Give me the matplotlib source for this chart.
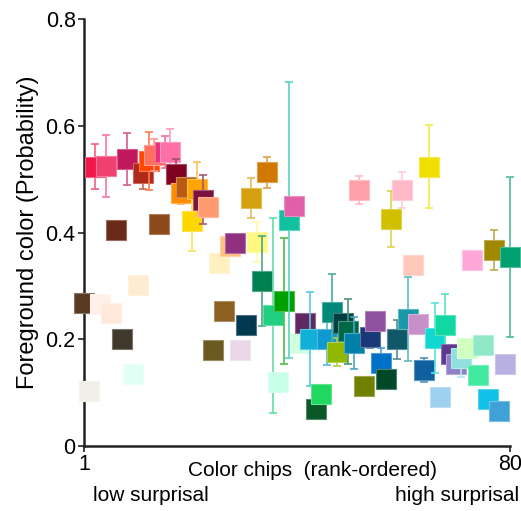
import numpy as np
import matplotlib.pyplot as plt
import matplotlib.colors as mcolors

plt.rcParams['font.family'] = ['Liberation Sans', 'DejaVu Sans']

# chips ranked by surprisal, 1..80
rank = list(range(1, 81))

prob = [0.268, 0.103, 0.523, 0.266, 0.525, 0.249, 0.405, 0.200, 0.538, 0.135,
        0.302, 0.511, 0.534, 0.545, 0.416, 0.551, 0.551, 0.510, 0.474, 0.485,
        0.422, 0.481, 0.461, 0.448, 0.180, 0.343, 0.253, 0.375, 0.380, 0.180,
        0.227, 0.465, 0.382, 0.309, 0.513, 0.245, 0.120, 0.272, 0.423, 0.450,
        0.193, 0.230, 0.200, 0.069, 0.097, 0.200, 0.251, 0.176, 0.230, 0.215,
        0.193, 0.480, 0.112, 0.204, 0.234, 0.156, 0.126, 0.425, 0.200, 0.480,
        0.238, 0.339, 0.229, 0.142, 0.523, 0.202, 0.092, 0.227, 0.172, 0.154,
        0.165, 0.184, 0.348, 0.133, 0.189, 0.088, 0.367, 0.066, 0.154, 0.354]

err = [0.0, 0.0, 0.042, 0.0, 0.058, 0.0, 0.0, 0.0, 0.049, 0.0,
       0.0, 0.030, 0.054, 0.030, 0.0, 0.030, 0.042, 0.027, 0.020, 0.0,
       0.056, 0.051, 0.046, 0.0, 0.0, 0.0, 0.0, 0.0, 0.0, 0.0,
       0.005, 0.037, 0.038, 0.085, 0.029, 0.183, 0.0, 0.118, 0.259, 0.0,
       0.0, 0.0, 0.088, 0.0, 0.0, 0.049, 0.071, 0.026, 0.0, 0.061,
       0.049, 0.026, 0.0, 0.020, 0.0, 0.028, 0.0, 0.052, 0.037, 0.034,
       0.078, 0.0, 0.0, 0.023, 0.078, 0.066, 0.0, 0.058, 0.0, 0.0,
       0.036, 0.0, 0.0, 0.0, 0.010, 0.0, 0.037, 0.0, 0.0, 0.150]

colors = ['#5A3A20', '#F0F0E8', '#F0184A', '#FFF0E8', '#F04070', '#FFE8D8', '#6A2A18', '#40382A', '#C0185A', '#E0FFF5',
          '#FFEBD0', '#B02818', '#FF4500', '#FF7060', '#8B4A1A', '#E8307A', '#FF70A8', '#800020', '#FF8C00', '#B85A10',
          '#FFD700', '#FFA500', '#7A1040', '#FF9A70', '#6A5A20', '#FFF0C0', '#8B6020', '#FFC080', '#903080', '#E8D8E8',
          '#003850', '#D4A010', '#FFF880', '#008050', '#D07800', '#20D080', '#C8FFE8', '#00A000', '#10C0A0', '#E060A8',
          '#D0FFE0', '#602860', '#10B0D8', '#0A5828', '#20D860', '#1098D0', '#008878', '#90B800', '#004040', '#006848',
          '#0080A8', '#FFA0A8', '#708000', '#183878', '#9050A0', '#0070C8', '#004828', '#D0C000', '#105868', '#FFB8C8',
          '#1898A8', '#FFC8B8', '#C890C8', '#1060A0', '#F0E000', '#10D8D0', '#A0D0F0', '#10D8A0', '#603890', '#9080C8',
          '#90E0E0', '#D0FFC0', '#FFA8D8', '#40E8A0', '#90E8C8', '#10C0E8', '#A08800', '#40A0D8', '#B8B0E0', '#00A070']

fig = plt.figure(figsize=(5.21, 5.11), dpi=100)
ax = fig.add_axes([84 / 521, 65 / 511, 426 / 521, 427 / 511])

for i in range(len(rank)):
    c = colors[i]
    rgb = np.array(mcolors.to_rgb(c))
    edge = 0.7 * rgb + 0.3
    if err[i] > 0:
        ax.errorbar(rank[i], prob[i], yerr=err[i], fmt='none', ecolor=edge,
                    elinewidth=1.2, capsize=3, capthick=1.2, zorder=2 + 2 * i, clip_on=False)
    ax.plot(rank[i], prob[i], 's', ms=14.5, color=c, mec=edge, mew=0.8,
            zorder=3 + 2 * i, clip_on=False)

ax.set_xlim(1, 80)
ax.set_ylim(0, 0.8)
ax.set_yticks([0, 0.2, 0.4, 0.6, 0.8])
ax.set_yticklabels(['0', '0.2', '0.4', '0.6', '0.8'])
ax.set_xticks([1, 80])
ax.set_xticklabels(['1', '80'])
ax.tick_params(labelsize=15.5, length=4, width=1.2, color='#222222', pad=2)

for s in ['top', 'right']:
    ax.spines[s].set_visible(False)
for s in ['left', 'bottom']:
    ax.spines[s].set_linewidth(1.8)
    ax.spines[s].set_color('#222222')

ax.set_ylabel('Foreground color (Probability)', fontsize=17, labelpad=5)

fig.text(312 / 521, 1 - 470 / 511, 'Color chips  (rank-ordered)', fontsize=15,
         ha='center', va='center')
fig.text(93 / 521, 1 - 495 / 511, 'low surprisal', fontsize=15, ha='left', va='center')
fig.text(519 / 521, 1 - 495 / 511, 'high surprisal', fontsize=15, ha='right', va='center')

fig.savefig('out.png', dpi=100)
